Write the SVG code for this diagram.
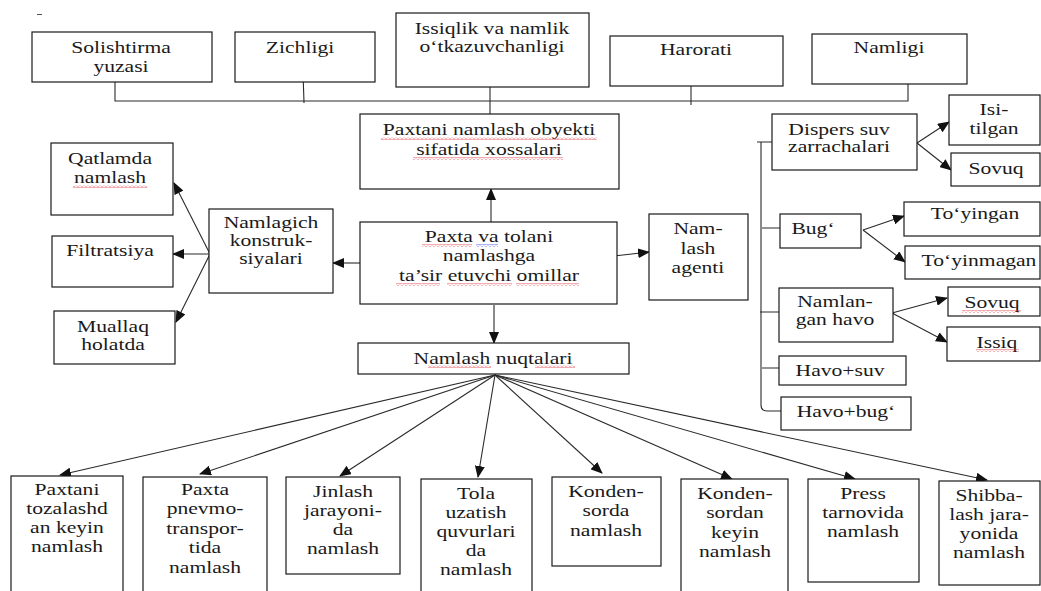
<svg xmlns="http://www.w3.org/2000/svg" width="1041" height="591" viewBox="0 0 1041 591">
<style>
.b{fill:#fff;stroke:#1a1a1a;stroke-width:1.2}
.t{font-family:"Liberation Serif","Times New Roman",serif;font-size:16px;fill:#1a1a1a;text-anchor:middle}
.c{fill:none;stroke:#2a2a2a;stroke-width:1.1}
.a{fill:none;stroke:#2a2a2a;stroke-width:1.1;marker-end:url(#ah)}
</style>
<defs>
<marker id="ah" markerWidth="12" markerHeight="10" refX="11" refY="5" orient="auto" markerUnits="userSpaceOnUse"><path d="M0 0 L12 5 L0 10 Z" fill="#111"/></marker>
<pattern id="wr" width="4" height="3" patternUnits="userSpaceOnUse"><path d="M0 2.5 L2 0.5 L4 2.5" fill="none" stroke="#e0303a" stroke-width="0.8"/></pattern>
<pattern id="wb" width="4" height="3" patternUnits="userSpaceOnUse"><path d="M0 2.5 L2 0.5 L4 2.5" fill="none" stroke="#3040e0" stroke-width="0.8"/></pattern>
</defs>
<rect width="1041" height="591" fill="#fff"/>
<line x1="37" y1="14.5" x2="42" y2="14.5" stroke="#555" stroke-width="1"/>

<g id="connectors">
<path class="c" d="M115 82 V101 H908 V84"/>
<path class="c" d="M303 72 L304 103"/>
<path class="c" d="M490 87 V114"/>
<path class="c" d="M691 86 V105"/>
<path class="a" d="M491 222 V189"/>
<path class="a" d="M494 305 V343"/>
<path class="a" d="M614 256 L649 252"/>
<path class="a" d="M360 263 H333"/>
<path class="a" d="M210 254 L174 183"/>
<path class="a" d="M210 254 L173 254"/>
<path class="a" d="M210 254 L176 322"/>
<path class="a" d="M917 143 L949 122"/>
<path class="a" d="M917 143 L951 170"/>
<path class="a" d="M863 230 L904 216"/>
<path class="a" d="M863 230 L905 262"/>
<path class="a" d="M892 313 L947 298"/>
<path class="a" d="M892 313 L947 342"/>
<path class="c" d="M757 142 H776 M761 142 V405 Q761 411 767 411 H781 M762 228 H780 M760 312 H779 M762 368 H779"/>
<path class="a" d="M495 375 L60 475"/>
<path class="a" d="M495 375 L200 474"/>
<path class="a" d="M495 375 L340 476"/>
<path class="a" d="M495 375 L478 477"/>
<path class="a" d="M495 375 L602 473"/>
<path class="a" d="M495 375 L732 479"/>
<path class="a" d="M495 375 L855 479"/>
<path class="a" d="M495 375 L987 480"/>
</g>

<g id="n-solishtirma"><rect class="b" x="32" y="32" width="180" height="50"/><text class="t" transform="matrix(1.35 0 0 1 121 53)"><tspan x="0">Solishtirma</tspan><tspan x="0" dy="19">yuzasi</tspan></text></g>
<g id="n-zichligi"><rect class="b" x="235" y="32" width="140" height="50"/><text class="t" transform="matrix(1.35 0 0 1 300 53)">Zichligi</text></g>
<g id="n-issiqlik"><rect class="b" x="396" y="13" width="193" height="74"/><text class="t" transform="matrix(1.35 0 0 1 492 34)"><tspan x="0">Issiqlik va namlik</tspan><tspan x="0" dy="18.5">o‘tkazuvchanligi</tspan></text></g>
<g id="n-harorati"><rect class="b" x="610" y="36" width="173" height="50"/><text class="t" transform="matrix(1.35 0 0 1 696 55)">Harorati</text></g>
<g id="n-namligi"><rect class="b" x="812" y="34" width="155" height="50"/><text class="t" transform="matrix(1.35 0 0 1 889 53)">Namligi</text></g>

<g id="n-obyekt"><rect class="b" x="360" y="114" width="259" height="75"/><text class="t" transform="matrix(1.35 0 0 1 489 135)"><tspan x="0">Paxtani namlash obyekti</tspan><tspan x="0" dy="20">sifatida xossalari</tspan></text>
<rect x="381" y="137" width="216" height="3" fill="url(#wr)"/><rect x="413" y="157" width="150" height="3" fill="url(#wr)"/></g>
<g id="n-omillar"><rect class="b" x="360" y="222" width="257" height="82"/><text class="t" transform="matrix(1.35 0 0 1 489 242)"><tspan x="0">Paxta va tolani</tspan><tspan x="0" dy="19.5">namlashga</tspan><tspan x="0" dy="19.5">ta’sir etuvchi omillar</tspan></text>
<rect x="422" y="244" width="50" height="3" fill="url(#wr)"/><rect x="476" y="244" width="22" height="3" fill="url(#wb)"/><rect x="396" y="283" width="44" height="3" fill="url(#wr)"/><rect x="447" y="283" width="65" height="3" fill="url(#wr)"/><rect x="516" y="283" width="63" height="3" fill="url(#wr)"/></g>
<g id="n-agent"><rect class="b" x="649" y="214" width="99" height="86"/><text class="t" transform="matrix(1.35 0 0 1 698 234)"><tspan x="0">Nam-</tspan><tspan x="0" dy="20">lash</tspan><tspan x="0" dy="19">agenti</tspan></text></g>
<g id="n-nuqtalari"><rect class="b" x="358" y="343" width="271" height="31"/><text class="t" transform="matrix(1.35 0 0 1 493 364)">Namlash nuqtalari</text>
<rect x="428" y="365" width="63" height="3" fill="url(#wr)"/><rect x="535" y="365" width="40" height="3" fill="url(#wr)"/></g>

<g id="n-namlagich"><rect class="b" x="209" y="209" width="124" height="84"/><text class="t" transform="matrix(1.35 0 0 1 271 228)"><tspan x="0">Namlagich</tspan><tspan x="0" dy="18.5">konstruk-</tspan><tspan x="0" dy="18">siyalari</tspan></text></g>
<g id="n-qatlamda"><rect class="b" x="51" y="143" width="122" height="72"/><text class="t" transform="matrix(1.35 0 0 1 110 164)"><tspan x="0">Qatlamda</tspan><tspan x="0" dy="19">namlash</tspan></text><rect x="73" y="185" width="74" height="3" fill="url(#wr)"/></g>
<g id="n-filtratsiya"><rect class="b" x="52" y="236" width="121" height="51"/><text class="t" transform="matrix(1.35 0 0 1 110 256)">Filtratsiya</text></g>
<g id="n-muallaq"><rect class="b" x="54" y="311" width="121" height="53"/><text class="t" transform="matrix(1.35 0 0 1 113 332)"><tspan x="0">Muallaq</tspan><tspan x="0" dy="18.5">holatda</tspan></text></g>

<g id="n-dispers"><rect class="b" x="772" y="114" width="145" height="56"/><text class="t" transform="matrix(1.35 0 0 1 839 135)"><tspan x="0">Dispers suv</tspan><tspan x="0" dy="17.5">zarrachalari</tspan></text></g>
<g id="n-isitilgan"><rect class="b" x="949" y="95" width="91" height="50"/><text class="t" transform="matrix(1.35 0 0 1 994 115)"><tspan x="0">Isi-</tspan><tspan x="0" dy="19">tilgan</tspan></text></g>
<g id="n-sovuq1"><rect class="b" x="951" y="153" width="89" height="33"/><text class="t" transform="matrix(1.35 0 0 1 996 174)">Sovuq</text></g>
<g id="n-bug"><rect class="b" x="780" y="214" width="81" height="34"/><text class="t" transform="matrix(1.35 0 0 1 813 234)">Bug‘</text></g>
<g id="n-toyingan"><rect class="b" x="904" y="202" width="136" height="34"/><text class="t" transform="matrix(1.35 0 0 1 975 219)">To‘yingan</text></g>
<g id="n-toyinmagan"><rect class="b" x="905" y="246" width="135" height="33"/><text class="t" transform="matrix(1.35 0 0 1 979 266)">To‘yinmagan</text></g>
<g id="n-namlangan"><rect class="b" x="779" y="288" width="114" height="54"/><text class="t" transform="matrix(1.35 0 0 1 835 307)"><tspan x="0">Namlan-</tspan><tspan x="0" dy="18">gan havo</tspan></text></g>
<g id="n-sovuq2"><rect class="b" x="948" y="287" width="92" height="29"/><text class="t" transform="matrix(1.35 0 0 1 992 308)">Sovuq</text><rect x="962" y="310" width="59" height="3" fill="url(#wr)"/></g>
<g id="n-issiq"><rect class="b" x="947" y="327" width="93" height="34"/><text class="t" transform="matrix(1.35 0 0 1 997 348)">Issiq</text><rect x="976" y="349" width="43" height="3" fill="url(#wr)"/></g>
<g id="n-havosuv"><rect class="b" x="779" y="356" width="127" height="29"/><text class="t" transform="matrix(1.35 0 0 1 840 376)">Havo+suv</text></g>
<g id="n-havobug"><rect class="b" x="781" y="397" width="130" height="33"/><text class="t" transform="matrix(1.35 0 0 1 846 417)">Havo+bug‘</text></g>

<g id="n-b1"><rect class="b" x="11" y="476" width="112" height="130"/><text class="t" transform="matrix(1.35 0 0 1 67 495)"><tspan x="0">Paxtani</tspan><tspan x="0" dy="19.5">tozalashd</tspan><tspan x="0" dy="19">an keyin</tspan><tspan x="0" dy="19">namlash</tspan></text></g>
<g id="n-b2"><rect class="b" x="143" y="477" width="124" height="130"/><text class="t" transform="matrix(1.35 0 0 1 205 495)"><tspan x="0">Paxta</tspan><tspan x="0" dy="19.5">pnevmo-</tspan><tspan x="0" dy="19.5">transpor-</tspan><tspan x="0" dy="19.5">tida</tspan><tspan x="0" dy="19.5">namlash</tspan></text></g>
<g id="n-b3"><rect class="b" x="286" y="477" width="114" height="97"/><text class="t" transform="matrix(1.35 0 0 1 343 497)"><tspan x="0">Jinlash</tspan><tspan x="0" dy="19">jarayoni-</tspan><tspan x="0" dy="19">da</tspan><tspan x="0" dy="19">namlash</tspan></text></g>
<g id="n-b4"><rect class="b" x="421" y="479" width="111" height="130"/><text class="t" transform="matrix(1.35 0 0 1 476 499)"><tspan x="0">Tola</tspan><tspan x="0" dy="19">uzatish</tspan><tspan x="0" dy="19">quvurlari</tspan><tspan x="0" dy="19">da</tspan><tspan x="0" dy="19">namlash</tspan></text></g>
<g id="n-b5"><rect class="b" x="552" y="477" width="109" height="89"/><text class="t" transform="matrix(1.35 0 0 1 606 497)"><tspan x="0">Konden-</tspan><tspan x="0" dy="19.5">sorda</tspan><tspan x="0" dy="19.5">namlash</tspan></text></g>
<g id="n-b6"><rect class="b" x="681" y="479" width="107" height="130"/><text class="t" transform="matrix(1.35 0 0 1 735 499)"><tspan x="0">Konden-</tspan><tspan x="0" dy="19.5">sordan</tspan><tspan x="0" dy="19.5">keyin</tspan><tspan x="0" dy="19.5">namlash</tspan></text></g>
<g id="n-b7"><rect class="b" x="808" y="479" width="111" height="103"/><text class="t" transform="matrix(1.35 0 0 1 863 499)"><tspan x="0">Press</tspan><tspan x="0" dy="19.5">tarnovida</tspan><tspan x="0" dy="19">namlash</tspan></text></g>
<g id="n-b8"><rect class="b" x="939" y="481" width="101" height="104"/><text class="t" transform="matrix(1.35 0 0 1 989 501)"><tspan x="0">Shibba-</tspan><tspan x="0" dy="19">lash jara-</tspan><tspan x="0" dy="19">yonida</tspan><tspan x="0" dy="19">namlash</tspan></text></g>
</svg>
